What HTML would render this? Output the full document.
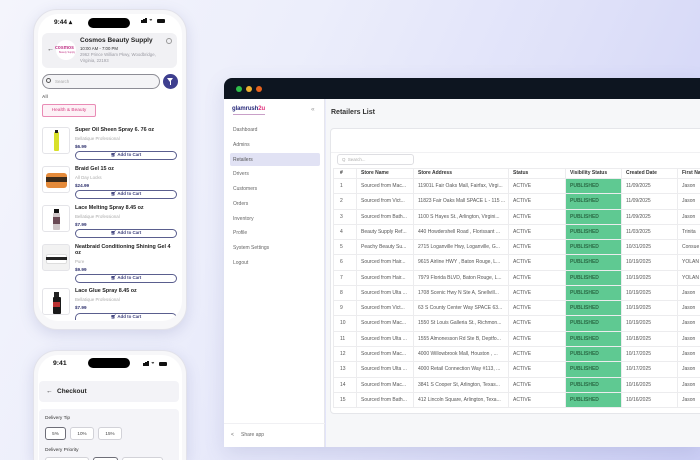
<!DOCTYPE html>
<html><head><meta charset="utf-8"><style>
*{margin:0;padding:0;box-sizing:border-box}
html,body{width:700px;height:460px;overflow:hidden}
body{font-family:"Liberation Sans",sans-serif}
#root{position:relative;width:700px;height:460px;overflow:hidden;background:linear-gradient(115deg,#f4f5fc 0%,#eceefb 35%,#dfe1f9 65%,#cdd0f6 100%)}
.a{position:absolute;white-space:nowrap}
.phone{position:absolute;background:#f7f7f9;border:1px solid #e2e2ea;border-radius:24px;box-shadow:0 4px 14px rgba(90,95,160,.18)}
.screen{position:absolute;background:#fff;border-radius:20px;overflow:hidden}
.pg{position:absolute;left:0;top:0;width:700px;height:460px}
.island{position:absolute;background:#000;border-radius:6px}
.img{position:absolute;left:42px;width:28px;height:27px;border:1px solid #e4e4e8;border-radius:3px;background:#fff;overflow:hidden}
.pt{position:absolute;left:75px;font-size:5.4px;font-weight:bold;color:#222}
.pb{position:absolute;left:75px;font-size:4.4px;color:#aaa}
.pp{position:absolute;left:75px;font-size:4.6px;font-weight:bold;color:#2b2e6b}
.btn{position:absolute;left:75px;width:102px;height:8.5px;border:1px solid #5a5e8e;border-radius:5px;font-size:4.4px;color:#3a3d7a;text-align:center;line-height:6.5px;font-weight:bold}
.win{position:absolute;left:224px;top:78px;width:476px;height:369px;border-radius:8px 0 0 0;overflow:hidden;box-shadow:0 6px 20px rgba(80,85,150,.15)}
.menu{position:absolute;left:233px;font-size:5px;color:#666}
.row{position:absolute;left:333px;width:367px;height:15.27px;border-bottom:1px solid #ececee;display:flex;font-size:5px;color:#555;line-height:14.5px;overflow:hidden}
.row div{height:100%;border-right:1px solid #ececee;padding-left:4px;overflow:hidden;white-space:nowrap;flex:none}
.c1{width:24px;padding-left:7px!important}.c2{width:57px}.c3{width:95px}.c4{width:57px}.c5{width:56px}.c6{width:56px}.c7{width:60px}
.g{background:#5fc992;color:#2a6b45;font-weight:bold}
.hd{font-weight:bold;color:#333;height:11px;line-height:11px}
.tb{position:absolute;top:427px;height:13px;border:1px solid #d2d2d8;border-radius:3px;background:#fff;font-size:4.6px;color:#444;text-align:center;line-height:11px}
</style></head><body><div id="root">

<!-- PHONE 1 -->
<div class="phone" style="left:33px;top:9px;width:154px;height:321px"></div>
<div class="screen" style="left:38px;top:14px;width:144px;height:307px">
 <div class="pg" style="left:-38px;top:-14px">
  <div class="a" style="left:54px;top:18px;font-size:6.5px;font-weight:bold;color:#111">9:44 ▴</div>
  <div class="island" style="left:88px;top:18px;width:42px;height:10px"></div>
  <div class="a" style="left:141px;top:20px;width:1.5px;height:3px;background:#111"></div>
  <div class="a" style="left:143px;top:19px;width:1.5px;height:4px;background:#111"></div>
  <div class="a" style="left:145px;top:18px;width:1.5px;height:5px;background:#111"></div>
  <div class="a" style="left:149px;top:17px;font-size:6px;color:#111">◒</div>
  <div class="a" style="left:157px;top:19px;width:8px;height:4px;background:#111;border-radius:1px"></div>

  <div class="a" style="left:42px;top:33px;width:135px;height:35px;background:#f1f1f4;border-radius:6px"></div>
  <div class="a" style="left:47px;top:46px;font-size:7px;color:#333">←</div>
  <div class="a" style="left:56px;top:40px;width:20px;height:20px;border-radius:50%;background:#fff"></div>
  <div class="a" style="left:55px;top:45px;font-size:5px;font-weight:bold;color:#c23a8a">cosmos</div>
  <div class="a" style="left:59px;top:51px;font-size:2.5px;color:#c23a8a">Beauty Supply</div>
  <div class="a" style="left:80px;top:37px;font-size:6.5px;font-weight:bold;color:#222">Cosmos Beauty Supply</div>
  <div class="a" style="left:80px;top:45.5px;font-size:4.3px;color:#333">10:00 AM - 7:00 PM</div>
  <div class="a" style="left:80px;top:52px;font-size:4.3px;color:#9a9aa2;line-height:5.5px">2962 Prince William Pkwy, Woodbridge,<br>Virginia, 22193</div>
  <div class="a" style="left:166px;top:38px;width:6px;height:6px;border:0.8px solid #999;border-radius:50%"></div>

  <div class="a" style="left:42px;top:74px;width:118px;height:15px;border:1px solid #8d8d95;border-radius:8px;background:#f4f4f6"></div>
  <div class="a" style="left:46px;top:78px;width:5px;height:5px;border:0.8px solid #555;border-radius:50%"></div>
  <div class="a" style="left:55px;top:79px;font-size:4.5px;color:#aaa">Search</div>
  <div class="a" style="left:163px;top:74px;width:15px;height:15px;border-radius:50%;background:#3e3f8f"></div>
  <div class="a" style="left:167px;top:78px;width:0;height:0;border-left:3.5px solid transparent;border-right:3.5px solid transparent;border-top:4px solid #fff"></div>
  <div class="a" style="left:169.8px;top:81px;width:1.4px;height:3.5px;background:#fff"></div>

  <div class="a" style="left:42px;top:94px;font-size:4.6px;color:#777;font-weight:bold">All</div>
  <div class="a" style="left:42px;top:104px;width:54px;height:13px;border:1px solid #e98bb5;background:#fdf1f6;border-radius:2px;font-size:4.8px;color:#d63f82;text-align:center;line-height:11px">Health &amp; Beauty</div>

  <div class="img" style="top:127px"><div class="a" style="left:11px;top:4px;width:5px;height:19px;background:#d8e02a;border-radius:1px"></div><div class="a" style="left:12px;top:2px;width:3px;height:3px;background:#222"></div></div>
  <div class="pt" style="top:127px">Super Oil Sheen Spray 6. 76 oz</div>
  <div class="pb" style="top:135.5px">Bellatique Professional</div>
  <div class="pp" style="top:143.5px">$6.99</div>
  <div class="btn" style="top:151px">🛒︎ Add to Cart</div>

  <div class="img" style="top:166px"><div class="a" style="left:3px;top:6px;width:21px;height:15px;background:#e48a3a;border-radius:3px"></div><div class="a" style="left:3px;top:10px;width:21px;height:5px;background:#3a2a1a"></div></div>
  <div class="pt" style="top:166px">Braid Gel 15 oz</div>
  <div class="pb" style="top:174.5px">All Day Locks</div>
  <div class="pp" style="top:182.5px">$24.99</div>
  <div class="btn" style="top:190px">🛒︎ Add to Cart</div>

  <div class="img" style="top:205px"><div class="a" style="left:11px;top:3px;width:5px;height:4px;background:#111"></div><div class="a" style="left:10px;top:7px;width:7px;height:17px;background:#cfc6c8;border-radius:1px"></div><div class="a" style="left:10px;top:11px;width:7px;height:7px;background:#6a4a55"></div></div>
  <div class="pt" style="top:205px">Lace Melting Spray 8.45 oz</div>
  <div class="pb" style="top:213.5px">Bellatique Professional</div>
  <div class="pp" style="top:221.5px">$7.99</div>
  <div class="btn" style="top:229px">🛒︎ Add to Cart</div>

  <div class="img" style="top:244px;background:#f2f2f2"><div class="a" style="left:3px;top:9px;width:21px;height:10px;background:#fff;border-radius:2px;border:0.5px solid #ddd"></div><div class="a" style="left:3px;top:12px;width:21px;height:3px;background:#222"></div></div>
  <div class="pt" style="top:244px;line-height:6.3px">Neatbraid Conditioning Shining Gel 4<br>oz</div>
  <div class="pb" style="top:258.5px">Pure</div>
  <div class="pp" style="top:266.5px">$9.99</div>
  <div class="btn" style="top:274px">🛒︎ Add to Cart</div>

  <div class="img" style="top:288px"><div class="a" style="left:11px;top:3px;width:5px;height:5px;background:#222"></div><div class="a" style="left:9.5px;top:8px;width:8px;height:17px;background:#1a1a1a;border-radius:1px"></div><div class="a" style="left:10px;top:13px;width:7px;height:5px;background:#b33"></div></div>
  <div class="pt" style="top:288px">Lace Glue Spray 8.45 oz</div>
  <div class="pb" style="top:296.5px">Bellatique Professional</div>
  <div class="pp" style="top:304.5px">$7.99</div>
  <div class="btn" style="top:313px;height:7px;border-bottom:none;border-radius:5px 5px 0 0">🛒︎ Add to Cart</div>
 </div>
</div>

<!-- PHONE 2 -->
<div class="phone" style="left:33px;top:350px;width:154px;height:110px;border-radius:24px 24px 0 0;border-bottom:none"></div>
<div class="screen" style="left:38px;top:355px;width:144px;height:105px;border-radius:20px 20px 0 0">
 <div class="pg" style="left:-38px;top:-355px">
  <div class="a" style="left:53px;top:360px;font-size:6.8px;font-weight:bold;color:#111">9:41</div>
  <div class="island" style="left:88px;top:358px;width:42px;height:10px"></div>
  <div class="a" style="left:143px;top:363px;width:1.5px;height:3px;background:#111"></div>
  <div class="a" style="left:145px;top:362px;width:1.5px;height:4px;background:#111"></div>
  <div class="a" style="left:147px;top:361px;width:1.5px;height:5px;background:#111"></div>
  <div class="a" style="left:151px;top:360px;font-size:6px;color:#111">◒</div>
  <div class="a" style="left:159px;top:362px;width:8px;height:4px;background:#111;border-radius:1px"></div>
  <div class="a" style="left:39px;top:381px;width:140px;height:21px;background:#f3f3f7;border-radius:4px"></div>
  <div class="a" style="left:46px;top:388px;font-size:6.5px;color:#222">←</div>
  <div class="a" style="left:57px;top:388px;font-size:6.5px;font-weight:bold;color:#222">Checkout</div>
  <div class="a" style="left:39px;top:409px;width:140px;height:51px;background:#f4f4f8;border-radius:4px 4px 0 0"></div>
  <div class="a" style="left:45px;top:416px;font-size:4.8px;color:#333">Delivery Tip</div>
  <div class="tb" style="left:45px;width:21px;border-color:#6e6e78">5%</div>
  <div class="tb" style="left:70px;width:24px">10%</div>
  <div class="tb" style="left:98px;width:24px">15%</div>
  <div class="a" style="left:45px;top:448px;font-size:4.8px;color:#333">Delivery Priority</div>
  <div class="tb" style="left:45px;top:457px;width:44px;height:3px;border-bottom:none;border-radius:3px 3px 0 0"></div>
  <div class="tb" style="left:93px;top:457px;width:25px;height:3px;border-bottom:none;border-radius:3px 3px 0 0;border-color:#6e6e78"></div>
  <div class="tb" style="left:122px;top:457px;width:41px;height:3px;border-bottom:none;border-radius:3px 3px 0 0"></div>
 </div>
</div>

<!-- DESKTOP WINDOW -->
<div class="win">
 <div class="pg" style="left:-224px;top:-78px">
  <div class="a" style="left:224px;top:78px;width:476px;height:21px;background:#0d1520"></div>
  <div class="a" style="left:236px;top:86px;width:6px;height:6px;border-radius:50%;background:#2fbf4a"></div>
  <div class="a" style="left:246px;top:86px;width:6px;height:6px;border-radius:50%;background:#efb030"></div>
  <div class="a" style="left:256px;top:86px;width:6px;height:6px;border-radius:50%;background:#e7631d"></div>
  <div class="a" style="left:224px;top:99px;width:101px;height:348px;background:#fff;border-right:1px solid #e6e6ec"></div>
  <div class="a" style="left:232px;top:106px;font-size:6px;font-weight:bold;color:#2b2d7c;letter-spacing:-0.1px">glamrush<span style="color:#e0307a">2u</span></div>
  <div class="a" style="left:233px;top:114px;width:32px;height:0.6px;background:#c9a0c8"></div>
  <div class="a" style="left:311px;top:106px;font-size:6.5px;color:#999">«</div>
  <div class="a" style="left:230px;top:153px;width:90px;height:13px;background:#e1e2f4;border-radius:2px"></div>
  <div class="menu" style="top:127px">Dashboard</div>
  <div class="menu" style="top:142px">Admins</div>
  <div class="menu" style="top:156.5px;color:#555">Retailers</div>
  <div class="menu" style="top:171px">Drivers</div>
  <div class="menu" style="top:186px">Customers</div>
  <div class="menu" style="top:201px">Orders</div>
  <div class="menu" style="top:216px">Inventory</div>
  <div class="menu" style="top:230px">Profile</div>
  <div class="menu" style="top:245px">System Settings</div>
  <div class="menu" style="top:260px">Logout</div>
  <div class="a" style="left:224px;top:423px;width:101px;height:1px;background:#f0f0f3"></div>
  <div class="a" style="left:231px;top:432px;font-size:5px;color:#666">&lt;</div>
  <div class="menu" style="left:241px;top:432px">Share app</div>
  <div class="a" style="left:326px;top:99px;width:374px;height:348px;background:#f6f7f9"></div>
  <div class="a" style="left:331px;top:109px;font-size:7px;font-weight:bold;color:#333">Retailers List</div>
  <div class="a" style="left:330px;top:128px;width:380px;height:286px;background:#fff;border:1px solid #e5e6ea;border-radius:4px"></div>
  <div class="a" style="left:331px;top:152px;width:369px;height:1px;background:#f1f1f3"></div>
  <div class="a" style="left:337px;top:154px;width:77px;height:11px;border:1px solid #dedee2;border-radius:3px;font-size:4.4px;color:#aaa;line-height:9px;padding-left:4px">Q&nbsp; Search...</div>
  <div class="a" style="left:333px;top:168px;width:380px;height:240px;border:1px solid #ececee"></div>
  <div class="row hd" style="top:168px"><div class="c1">#</div><div class="c2">Store Name</div><div class="c3">Store Address</div><div class="c4">Status</div><div class="c5">Visibility Status</div><div class="c6">Created Date</div><div class="c7">First Name</div></div>
  <div class="row" style="top:179px"><div class="c1">1</div><div class="c2">Sourced from Mac...</div><div class="c3">11901L Fair Oaks Mall, Fairfax, Virgi...</div><div class="c4">ACTIVE</div><div class="c5 g">PUBLISHED</div><div class="c6">11/09/2025</div><div class="c7">Jason</div></div>
  <div class="row" style="top:194.27px"><div class="c1">2</div><div class="c2">Sourced from Vict...</div><div class="c3">11823 Fair Oaks Mall SPACE L - 115 ...</div><div class="c4">ACTIVE</div><div class="c5 g">PUBLISHED</div><div class="c6">11/09/2025</div><div class="c7">Jason</div></div>
  <div class="row" style="top:209.54px"><div class="c1">3</div><div class="c2">Sourced from Bath...</div><div class="c3">1100 S Hayes St., Arlington, Virgini...</div><div class="c4">ACTIVE</div><div class="c5 g">PUBLISHED</div><div class="c6">11/09/2025</div><div class="c7">Jason</div></div>
  <div class="row" style="top:224.81px"><div class="c1">4</div><div class="c2">Beauty Supply Ref...</div><div class="c3">440 Howdershell Road , Florissant ...</div><div class="c4">ACTIVE</div><div class="c5 g">PUBLISHED</div><div class="c6">11/03/2025</div><div class="c7">Trinita</div></div>
  <div class="row" style="top:240.08px"><div class="c1">5</div><div class="c2">Peachy Beauty Su...</div><div class="c3">2715 Loganville Hwy, Loganville, G...</div><div class="c4">ACTIVE</div><div class="c5 g">PUBLISHED</div><div class="c6">10/31/2025</div><div class="c7">Consue</div></div>
  <div class="row" style="top:255.35px"><div class="c1">6</div><div class="c2">Sourced from Hair...</div><div class="c3">9615 Airline HWY , Baton Rouge, L...</div><div class="c4">ACTIVE</div><div class="c5 g">PUBLISHED</div><div class="c6">10/19/2025</div><div class="c7">YOLAN</div></div>
  <div class="row" style="top:270.62px"><div class="c1">7</div><div class="c2">Sourced from Hair...</div><div class="c3">7979 Florida BLVD, Baton Rouge, L...</div><div class="c4">ACTIVE</div><div class="c5 g">PUBLISHED</div><div class="c6">10/19/2025</div><div class="c7">YOLAN</div></div>
  <div class="row" style="top:285.89px"><div class="c1">8</div><div class="c2">Sourced from Ulta ...</div><div class="c3">1708 Scenic Hwy N Ste A, Snellvill...</div><div class="c4">ACTIVE</div><div class="c5 g">PUBLISHED</div><div class="c6">10/19/2025</div><div class="c7">Jason</div></div>
  <div class="row" style="top:301.16px"><div class="c1">9</div><div class="c2">Sourced from Vict...</div><div class="c3">63 S County Center Way SPACE 63...</div><div class="c4">ACTIVE</div><div class="c5 g">PUBLISHED</div><div class="c6">10/19/2025</div><div class="c7">Jason</div></div>
  <div class="row" style="top:316.43px"><div class="c1">10</div><div class="c2">Sourced from Mac...</div><div class="c3">1550 St Louis Galleria St., Richmon...</div><div class="c4">ACTIVE</div><div class="c5 g">PUBLISHED</div><div class="c6">10/19/2025</div><div class="c7">Jason</div></div>
  <div class="row" style="top:331.7px"><div class="c1">11</div><div class="c2">Sourced from Ulta ...</div><div class="c3">1555 Almonesson Rd Ste B, Deptfo...</div><div class="c4">ACTIVE</div><div class="c5 g">PUBLISHED</div><div class="c6">10/18/2025</div><div class="c7">Jason</div></div>
  <div class="row" style="top:346.97px"><div class="c1">12</div><div class="c2">Sourced from Mac...</div><div class="c3">4000 Willowbrook Mall, Houston , ...</div><div class="c4">ACTIVE</div><div class="c5 g">PUBLISHED</div><div class="c6">10/17/2025</div><div class="c7">Jason</div></div>
  <div class="row" style="top:362.24px"><div class="c1">13</div><div class="c2">Sourced from Ulta ...</div><div class="c3">4000 Retail Connection Way #113, ...</div><div class="c4">ACTIVE</div><div class="c5 g">PUBLISHED</div><div class="c6">10/17/2025</div><div class="c7">Jason</div></div>
  <div class="row" style="top:377.51px"><div class="c1">14</div><div class="c2">Sourced from Mac...</div><div class="c3">3841 S Cooper St, Arlington, Texas...</div><div class="c4">ACTIVE</div><div class="c5 g">PUBLISHED</div><div class="c6">10/16/2025</div><div class="c7">Jason</div></div>
  <div class="row" style="top:392.78px"><div class="c1">15</div><div class="c2">Sourced from Bath...</div><div class="c3">412 Lincoln Square, Arlington, Texa...</div><div class="c4">ACTIVE</div><div class="c5 g">PUBLISHED</div><div class="c6">10/16/2025</div><div class="c7">Jason</div></div>
 </div>
</div>
</div></body></html>
